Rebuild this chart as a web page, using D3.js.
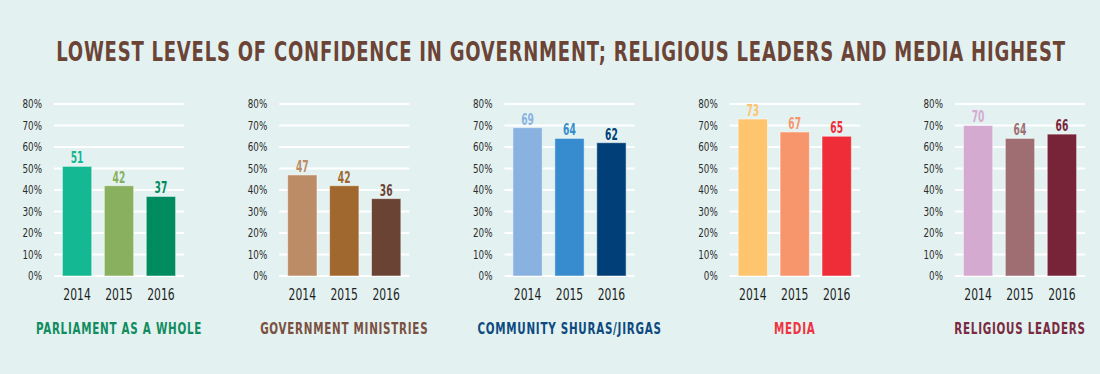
<!DOCTYPE html>
<html>
<head>
<meta charset="utf-8">
<script src="https://cdn.jsdelivr.net/npm/d3@7"></script>
<style>
  body { margin: 0; background: #e3f2f1; }
  text { font-family: "DejaVu Sans Condensed", "DejaVu Sans", sans-serif; }
</style>
</head>
<body>
<div id="chart"></div>
<script>
// data
const title = "LOWEST LEVELS OF CONFIDENCE IN GOVERNMENT; RELIGIOUS LEADERS AND MEDIA HIGHEST";
const years = ["2014", "2015", "2016"];
const groups = ["PARLIAMENT AS A WHOLE", "GOVERNMENT MINISTRIES", "COMMUNITY SHURAS/JIRGAS", "MEDIA", "RELIGIOUS LEADERS"];
const parliament = [51, 42, 37];
const ministries = [47, 42, 36];
const shuras = [69, 64, 62];
const media = [73, 67, 65];
const religious = [70, 64, 66];
const yTicks = [0, 10, 20, 30, 40, 50, 60, 70, 80];

const allValues = [parliament, ministries, shuras, media, religious];
const barColors = [
  ["#14b892", "#88b05f", "#008c5f"],
  ["#bb8c66", "#a0682f", "#6b4335"],
  ["#8ab2e0", "#368cce", "#003f78"],
  ["#fec46e", "#f7966c", "#ee2d39"],
  ["#d4aad1", "#9e6e73", "#772338"]
];
const labelColors = ["#128c5e", "#7a5040", "#0e4a80", "#ee3340", "#7a2a40"];

const width = 1100, height = 374;
const panelWidth = 130;

// no condensed font installed, so squeeze text horizontally round its anchor
function squeeze(sel, f) {
  sel.each(function() {
    const el = d3.select(this);
    const x = +el.attr("x"), y = +el.attr("y");
    el.attr("transform", `translate(${x},${y}) scale(${f},1) translate(${-x},${-y})`);
  });
}

const svg = d3.select("#chart")
  .append("svg")
  .attr("width", width)
  .attr("height", height);

svg.append("rect").attr("width", width).attr("height", height).attr("fill", "#e3f2f1");

// title, fitted to the width it has in the original
const titleText = svg.append("text")
  .attr("x", 561)
  .attr("y", 61)
  .attr("text-anchor", "middle")
  .style("font-size", "26px")
  .style("font-weight", "bold")
  .style("letter-spacing", "1px")
  .style("fill", "#6b4436")
  .text(title);
const titleLen = titleText.node().getComputedTextLength();
titleText.call(squeeze, 1010 / titleLen);

const panelX = d3.scalePoint().domain(groups).range([54, 955]);
const y = d3.scaleLinear().domain([0, 80]).range([276, 104]);

groups.forEach(function(name, i) {
  const gx = panelX(name);
  const g = svg.append("g");
  const values = allValues[i];

  const x = d3.scaleBand()
    .domain(years)
    .range([gx, gx + panelWidth])
    .paddingInner(0.3)
    .paddingOuter(0.2);

  // gridlines
  g.selectAll(".grid")
    .data(yTicks)
    .enter()
    .append("line")
    .attr("x1", gx)
    .attr("x2", gx + panelWidth)
    .attr("y1", d => y(d))
    .attr("y2", d => y(d))
    .attr("stroke", "#ffffff")
    .attr("stroke-width", 2);

  // y tick labels
  g.selectAll(".tick")
    .data(yTicks)
    .enter()
    .append("text")
    .attr("x", gx - 12)
    .attr("y", d => y(d))
    .attr("dy", "0.36em")
    .attr("text-anchor", "end")
    .style("font-size", "12.5px")
    .style("fill", "#2b2b2b")
    .text(d => d + "%")
    .call(squeeze, 0.78);

  // bars
  g.selectAll(".bar")
    .data(values)
    .enter()
    .append("rect")
    .attr("x", (d, j) => x(years[j]))
    .attr("y", d => y(d))
    .attr("width", x.bandwidth())
    .attr("height", d => y(0) - y(d))
    .attr("fill", (d, j) => barColors[i][j])
    .attr("stroke", "rgba(255,255,255,0.5)")
    .attr("stroke-width", 1);

  // value labels
  g.selectAll(".val")
    .data(values)
    .enter()
    .append("text")
    .attr("x", (d, j) => x(years[j]) + x.bandwidth() / 2)
    .attr("y", d => y(d) - 3)
    .attr("text-anchor", "middle")
    .style("font-size", "15px")
    .style("font-weight", "bold")
    .style("fill", (d, j) => barColors[i][j])
    .text(d => d)
    .call(squeeze, 0.68);

  // year labels
  g.selectAll(".year")
    .data(years)
    .enter()
    .append("text")
    .attr("x", d => x(d) + x.bandwidth() / 2)
    .attr("y", 300)
    .attr("text-anchor", "middle")
    .style("font-size", "15px")
    .style("fill", "#1e1e1e")
    .text(d => d)
    .call(squeeze, 0.8);

  // category label
  g.append("text")
    .attr("x", gx + panelWidth / 2)
    .attr("y", 334)
    .attr("text-anchor", "middle")
    .style("font-size", "16px")
    .style("font-weight", "bold")
    .style("letter-spacing", "1px")
    .style("fill", labelColors[i])
    .text(name)
    .call(squeeze, 0.72);
});
</script>
</body>
</html>
